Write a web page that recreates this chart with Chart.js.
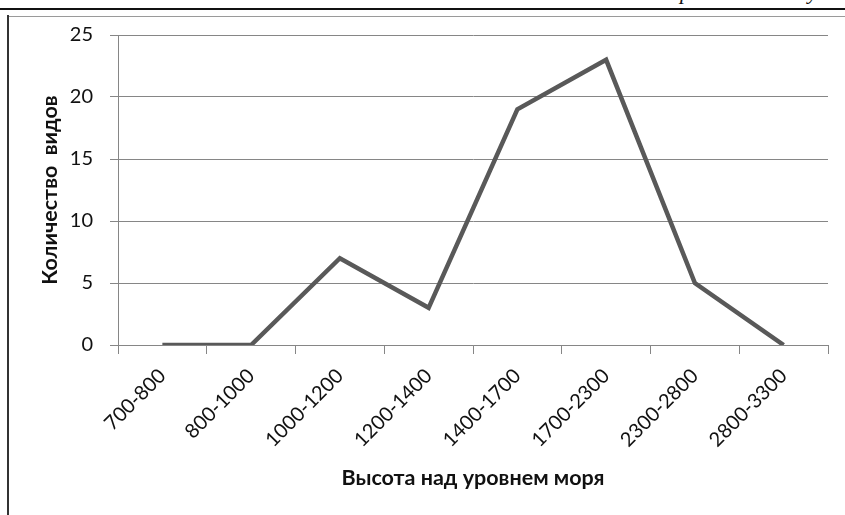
<!DOCTYPE html>
<html lang="ru">
<head>
<meta charset="utf-8">
<title>Количество видов</title>
<script src="https://cdn.jsdelivr.net/npm/chart.js@4/dist/chart.umd.min.js"></script>
<style>
  html, body { margin: 0; padding: 0; background: #fff; }
  body { width: 845px; height: 515px; position: relative; overflow: hidden; }
  #wrap { position: absolute; left: 0; top: 0; width: 845px; height: 515px; }
  .rule { position: absolute; left: 0; top: 8px; width: 845px; height: 2px; background: #111; }
  .frameLeft { position: absolute; left: 7px; top: 15px; width: 2px; height: 500px; background: #333; }
  .frameTop { position: absolute; left: 8px; top: 16px; width: 837px; height: 1px; background: #9a9a9a; }
  .head { position: absolute; top: -21px; font: italic 22px "Liberation Serif", serif; color: #111; }
</style>
</head>
<body>
<div class="head" style="left:680px">р</div>
<div class="head" style="left:808px">у</div>
<div class="rule"></div>
<div class="frameTop"></div>
<div class="frameLeft"></div>
<div id="wrap"><canvas id="graph" width="845" height="515"></canvas></div>
<script>
// altitude bands and number of species in each
var bands = ['700-800', '800-1000', '1000-1200', '1200-1400', '1400-1700', '1700-2300', '2300-2800', '2800-3300'];
var speciesCount = [0, 0, 7, 3, 19, 23, 5, 0];
var yTicks = [0, 5, 10, 15, 20, 25];

var gridGray = '#868686';
var tickFont = { family: 'Lato', size: 20 };
var titleFont = { family: 'Lato', size: 21.5, weight: 'bold' };

var ctx = document.getElementById('graph').getContext('2d');

window.myChart = new Chart(ctx, {
  type: 'line',
  data: {
    labels: bands,
    datasets: [{
      label: 'Количество видов',
      data: speciesCount,
      borderColor: '#595959',
      backgroundColor: '#595959',
      borderWidth: 4.5,
      pointRadius: 0,
      tension: 0,
      fill: false
    }]
  },
  options: {
    responsive: false,
    animation: false,
    layout: {
      padding: { left: 8, top: 35, right: 17, bottom: 0 }
    },
    plugins: {
      legend: { display: false },
      tooltip: { enabled: false }
    },
    scales: {
      x: {
        offset: true,
        grid: {
          offset: true,
          drawOnChartArea: false,
          drawTicks: true,
          tickLength: 9,
          color: gridGray
        },
        border: { color: gridGray, width: 1 },
        ticks: {
          autoSkip: false,
          maxRotation: 45,
          minRotation: 45,
          padding: 10,
          color: '#111',
          font: tickFont
        },
        title: {
          display: true,
          text: 'Высота над уровнем моря',
          color: '#111',
          font: titleFont,
          padding: { top: 0, bottom: 24 }
        },
        afterFit: function(scale) { scale.height = 170; }
      },
      y: {
        min: 0,
        max: 25,
        afterBuildTicks: function(scale) {
          scale.ticks = yTicks.map(function(v) { return { value: v }; });
        },
        grid: {
          color: gridGray,
          tickLength: 8
        },
        border: { color: gridGray, width: 1 },
        ticks: {
          padding: 17,
          color: '#111',
          font: tickFont
        },
        title: {
          display: true,
          text: 'Количество  видов',
          color: '#111',
          font: titleFont,
          padding: { top: 29, bottom: 0 }
        },
        afterFit: function(scale) { scale.width = 110; }
      }
    }
  }
});
</script>
</body>
</html>
